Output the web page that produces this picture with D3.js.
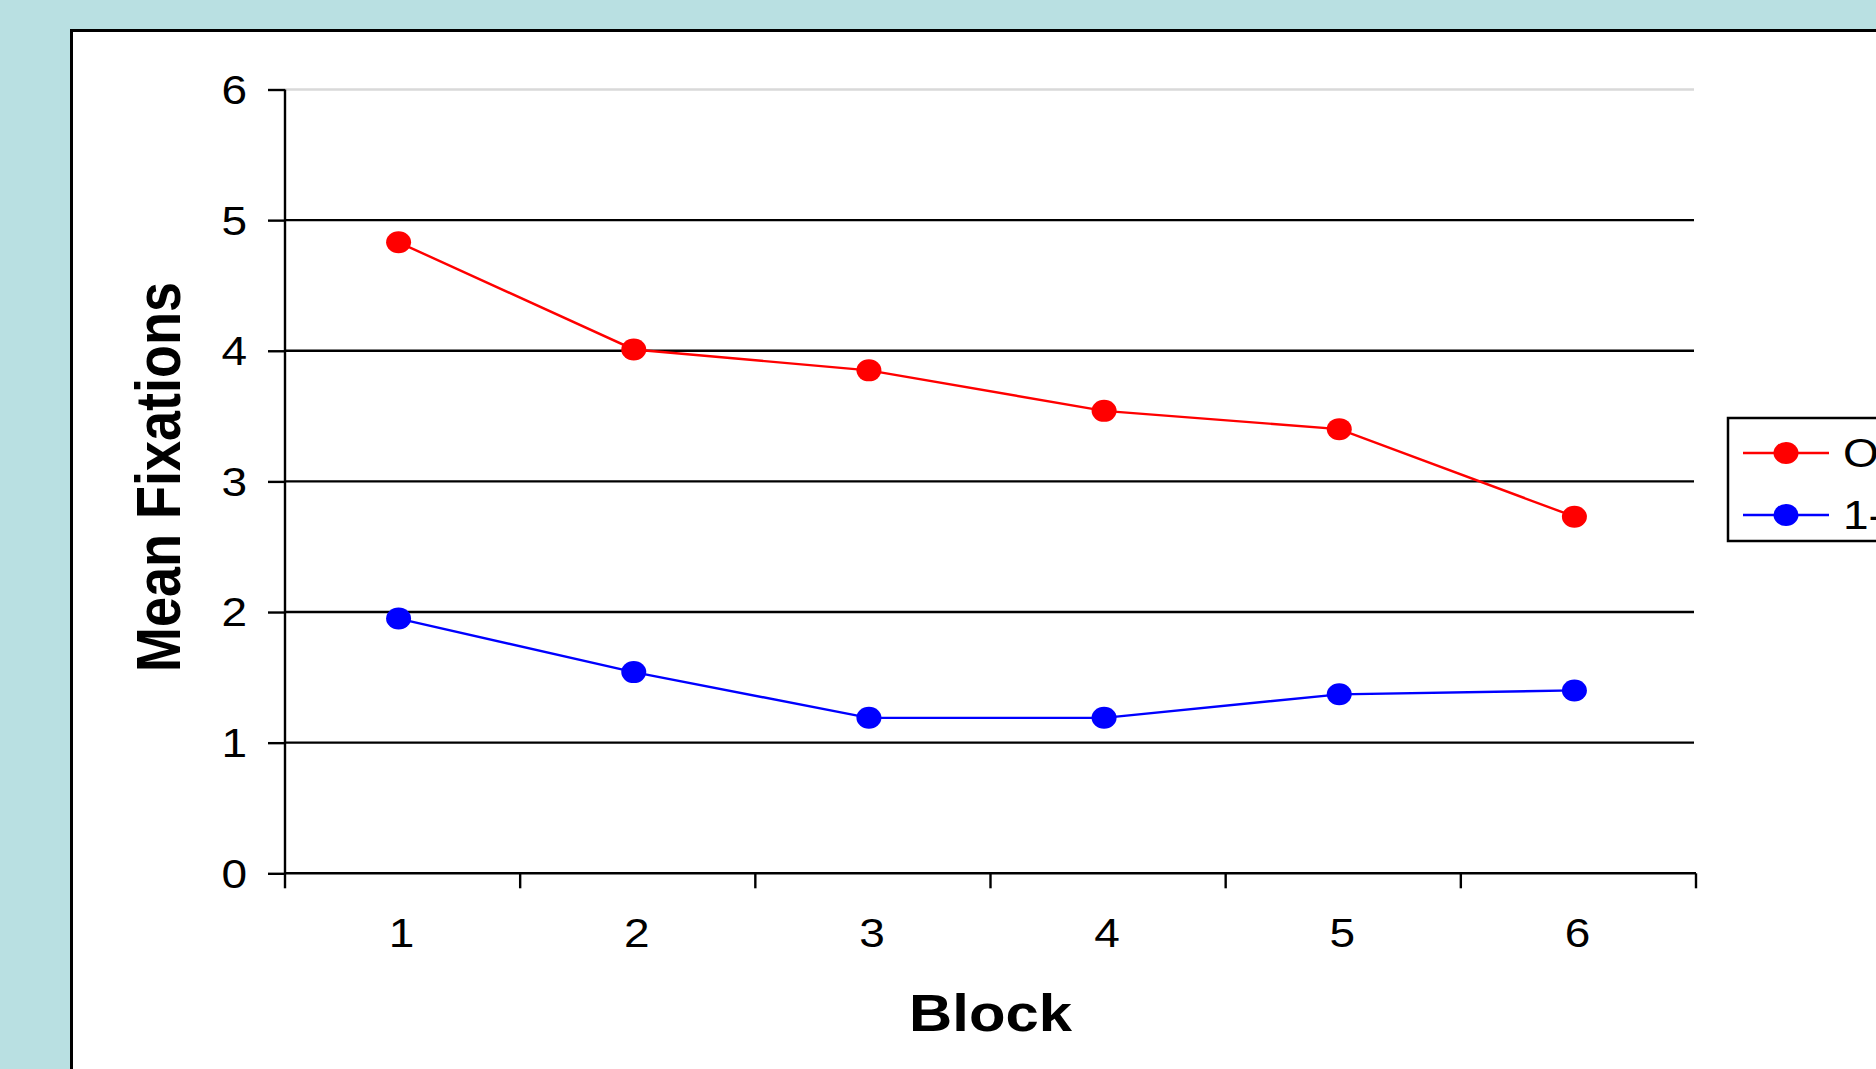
<!DOCTYPE html>
<html>
<head>
<meta charset="utf-8">
<script src="https://cdn.jsdelivr.net/npm/d3@7"></script>
<style>
  html, body { margin: 0; padding: 0; background: #b9e0e2; overflow: hidden; }
  svg { display: block; }
  text { font-family: "Liberation Sans", Arial, sans-serif; fill: #000; }
</style>
</head>
<body>
<svg id="chart" width="1876" height="1069"></svg>
<script>
const categories = ["1", "2", "3", "4", "5", "6"];
const seriesNames = ["Original", "1-Item"];
const seriesColors = ["#ff0000", "#0000ff"];
const redValues = [4.83, 4.01, 3.85, 3.54, 3.40, 2.73];
const blueValues = [1.95, 1.54, 1.19, 1.19, 1.37, 1.40];
const yTicks = [0, 1, 2, 3, 4, 5, 6];
const xTitle = "Block";
const yTitle = "Mean Fixations";

(function () {
const SX = 1.15; // horizontal stretch of the original picture
const W = 1876, H = 1069;
const svg = d3.select("#chart");

// background + panel
svg.append("rect").attr("x", 0).attr("y", 0).attr("width", W).attr("height", H).attr("fill", "#b9e0e2");
svg.append("rect").attr("x", 71.5).attr("y", 30.5).attr("width", W).attr("height", H)
  .attr("fill", "#fff").attr("stroke", "#000").attr("stroke-width", 3);

const pLeft = 285, pRight = 1696, pTop = 89.5, pBottom = 873.3;
const x = d3.scaleBand().domain(categories).range([pLeft, pRight]).padding(0);
const y = d3.scaleLinear().domain([0, 6]).range([pBottom, pTop]);

// gridlines
svg.append("g").selectAll("line").data(yTicks.filter(d => d > 0)).join("line")
  .attr("x1", pLeft).attr("x2", pRight - 2)
  .attr("y1", d => y(d)).attr("y2", d => y(d))
  .attr("stroke", d => d === 6 ? "#d9d9d9" : "#000")
  .attr("stroke-width", 2.4);

// y axis
const yAxis = d3.axisLeft(y).tickValues(yTicks).tickSize(17).tickPadding(21).tickFormat(d3.format("d"));
const gy = svg.append("g").attr("transform", `translate(${pLeft},0)`).call(yAxis);
gy.select(".domain").remove();
gy.append("line").attr("x1", 0).attr("x2", 0).attr("y1", pTop).attr("y2", pBottom).attr("stroke", "#000").attr("stroke-width", 2.4);
gy.selectAll(".tick line").attr("stroke", "#000").attr("stroke-width", 2.4);
gy.selectAll(".tick text").each(function() {
  const t = d3.select(this);
  const xx = +t.attr("x");
  t.attr("x", null).attr("dy", null)
   .attr("transform", `translate(${xx},0) scale(${SX},1)`)
   .attr("dominant-baseline", "central")
   .style("font-size", "40px").style("font-family", '"Liberation Sans", Arial, sans-serif');
});

// x axis
const gx = svg.append("g").attr("transform", `translate(0,${pBottom})`);
gx.append("line").attr("x1", pLeft).attr("x2", pRight).attr("y1", 0).attr("y2", 0).attr("stroke", "#000").attr("stroke-width", 2.4);
const bounds = categories.map(c => x(c)).concat([pRight]);
gx.selectAll("line.tk").data(bounds).join("line").attr("class", "tk")
  .attr("x1", d => d).attr("x2", d => d).attr("y1", 0).attr("y2", 15)
  .attr("stroke", "#000").attr("stroke-width", 2.4);
gx.selectAll("text").data(categories).join("text")
  .attr("transform", d => `translate(${x(d) + x.bandwidth() / 2 - 1},60) scale(${SX},1)`)
  .attr("text-anchor", "middle").attr("dominant-baseline", "central")
  .style("font-size", "40px").text(d => d);

// titles
svg.append("text")
  .attr("transform", `translate(${(pLeft + pRight) / 2},1013) scale(${SX},1)`)
  .attr("text-anchor", "middle").attr("dominant-baseline", "central")
  .style("font-size", "52px").style("font-weight", "bold").text(xTitle);
svg.append("text")
  .attr("transform", `translate(158,477) scale(${SX},1) rotate(-90)`)
  .attr("text-anchor", "middle").attr("dominant-baseline", "central")
  .style("font-size", "54px").style("font-weight", "bold").text(yTitle);

// series
const series = [redValues, blueValues];
const line = d3.line().x((d, i) => x(categories[i]) + x.bandwidth() / 2 - 4).y(d => y(d));
series.forEach((vals, si) => {
  svg.append("path").datum(vals).attr("d", line)
    .attr("fill", "none").attr("stroke", seriesColors[si]).attr("stroke-width", 2.4);
  svg.append("g").selectAll("ellipse").data(vals).join("ellipse")
    .attr("cx", (d, i) => x(categories[i]) + x.bandwidth() / 2 - 4)
    .attr("cy", d => y(d))
    .attr("rx", 12.5).attr("ry", 11)
    .attr("fill", seriesColors[si]);
});

// legend
const lg = svg.append("g");
lg.append("rect").attr("x", 1728).attr("y", 418).attr("width", 400).attr("height", 123)
  .attr("fill", "#fff").attr("stroke", "#000").attr("stroke-width", 2.5);
const legY = [453, 515];
seriesNames.forEach((n, i) => {
  lg.append("line").attr("x1", 1743).attr("x2", 1829).attr("y1", legY[i]).attr("y2", legY[i])
    .attr("stroke", seriesColors[i]).attr("stroke-width", 2.4);
  lg.append("ellipse").attr("cx", 1786).attr("cy", legY[i]).attr("rx", 12.5).attr("ry", 11)
    .attr("fill", seriesColors[i]);
  lg.append("text").attr("transform", `translate(1843,${legY[i]}) scale(${SX},1)`)
    .attr("dominant-baseline", "central").style("font-size", "40px").text(n);
});
})();
</script>
</body>
</html>
